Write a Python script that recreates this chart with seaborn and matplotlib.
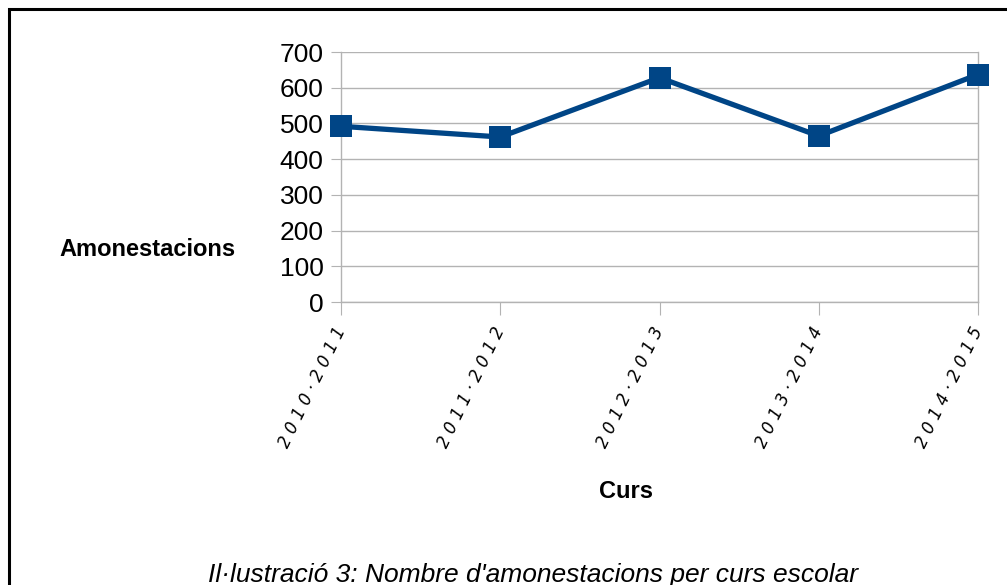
import matplotlib
matplotlib.use("Agg")
import matplotlib.pyplot as plt
import matplotlib.patches as mpatches
import pandas as pd
import seaborn as sns

# dades llegides del gràfic
cursos = ["2010 - 2011", "2011 - 2012", "2012 - 2013", "2013 - 2014", "2014 - 2015"]
amonestacions = [492, 462, 628, 465, 637]
yticks = [0, 100, 200, 300, 400, 500, 600, 700]

LINE_COLOR = "#004586"
GRID_COLOR = "#b3b3b3"

sns.set_style("white")
plt.rcParams["font.family"] = ["Liberation Sans", "DejaVu Sans"]
plt.rcParams["text.color"] = "black"
plt.rcParams["axes.labelcolor"] = "black"

df = pd.DataFrame({"Curs": cursos, "Amonestacions": amonestacions})

fig = plt.figure(figsize=(10.07, 5.85), dpi=100)
ax = fig.add_axes([341 / 1007, 1 - 302 / 585, 637 / 1007, 250 / 585])

sns.lineplot(data=df, x="Curs", y="Amonestacions", ax=ax, color=LINE_COLOR,
             linewidth=3.8, marker="s", markersize=16.5, markeredgewidth=0,
             sort=False, clip_on=False, zorder=5)

ax.set_xlim(0, len(cursos) - 1)
ax.set_ylim(0, 700)
ax.set_yticks(yticks)
ax.yaxis.grid(True, color=GRID_COLOR, linewidth=1)
ax.xaxis.grid(False)

ax.spines["top"].set_visible(False)
for side in ["left", "right", "bottom"]:
    ax.spines[side].set_color(GRID_COLOR)
    ax.spines[side].set_linewidth(1)

ax.tick_params(axis="y", length=7.5, color=GRID_COLOR, labelsize=19, pad=5,
               labelcolor="black")
ax.tick_params(axis="x", length=9, color=GRID_COLOR, direction="out", pad=10,
               labelcolor="black")
ax.tick_params(left=True, bottom=True)

ax.set_xticks(range(len(cursos)))
spaced = [" ".join(c.replace(" - ", "·")) for c in cursos]
ax.set_xticklabels(spaced, rotation=64, rotation_mode="anchor", ha="right",
                   va="center", fontsize=12, fontstyle="italic",
                   fontweight="light", family=["DejaVu Sans"])

ax.set_ylabel("Amonestacions", rotation=0, fontsize=17, fontweight="bold",
              ha="center", va="center", color="black")
ax.yaxis.set_label_coords(-0.3046, 0.212)
ax.set_xlabel("Curs", fontsize=17, fontweight="bold", ha="center", va="center",
              color="black")
ax.xaxis.set_label_coords(0.447, -0.76)

# marc exterior
fig.patches.append(mpatches.Rectangle((9 / 1007, -0.1), 1.2, 1.1 - 9 / 585,
                                      transform=fig.transFigure, fill=False,
                                      edgecolor="black", linewidth=2.2))

fig.text(533 / 1007, 1 - 575 / 585,
         "Il·lustració 3: Nombre d'amonestacions per curs escolar",
         ha="center", va="center", fontsize=19, fontstyle="italic", color="black")

fig.savefig("out.png", dpi=100)
